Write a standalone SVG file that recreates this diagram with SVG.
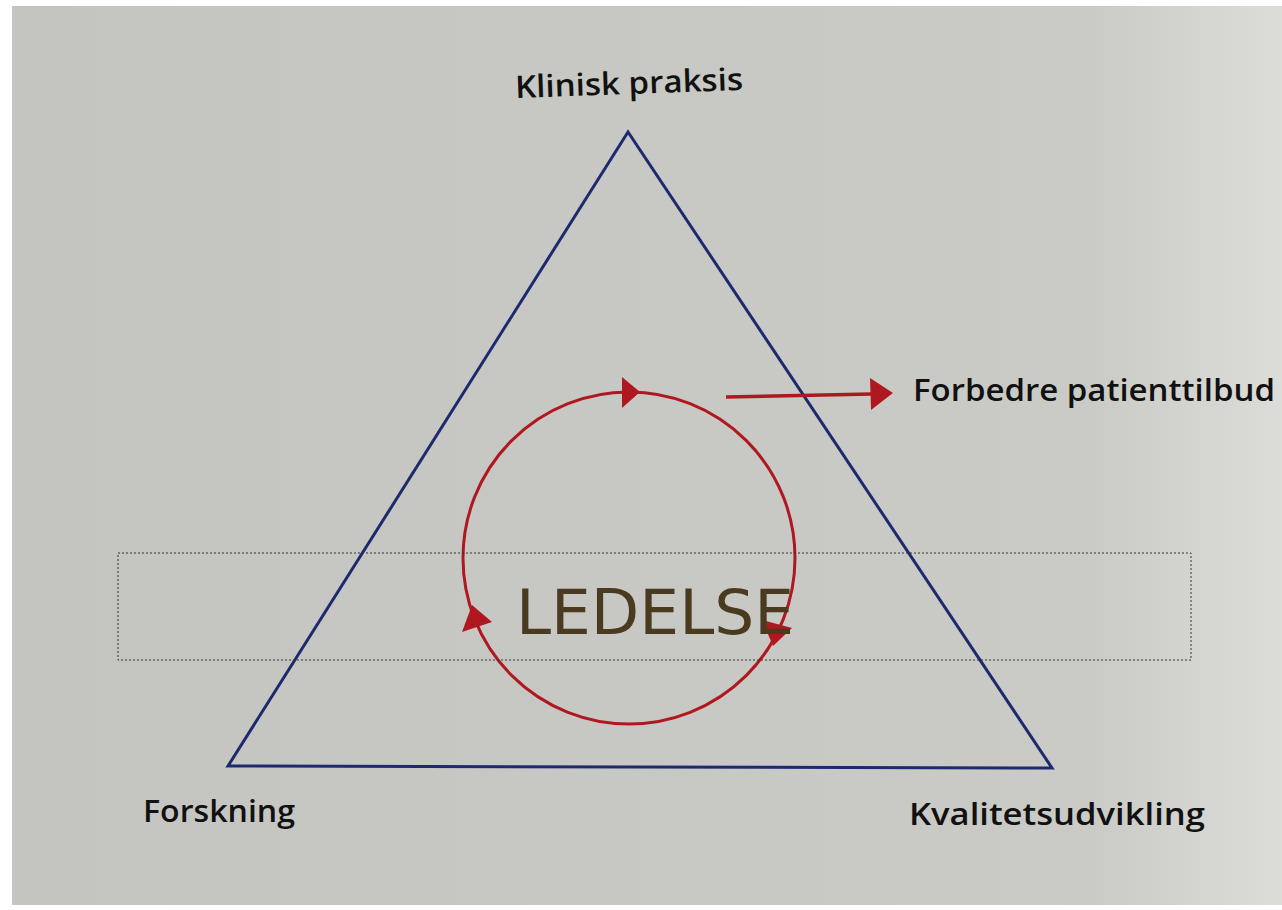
<svg xmlns="http://www.w3.org/2000/svg" width="1282" height="910" viewBox="0 0 1282 910">
<defs>
<linearGradient id="bg" x1="0" y1="0" x2="1" y2="0">
<stop offset="0" stop-color="#c4c5c1"/>
<stop offset="0.85" stop-color="#cacbc7"/>
<stop offset="1" stop-color="#dcdcd8"/>
</linearGradient>
<style>
.lbl{font-family:"Open Sans","DejaVu Sans",sans-serif;font-weight:600;font-size:31px;fill:#111}
.red{fill:#b01820}
</style>
</defs>
<rect width="1282" height="910" fill="#ffffff"/>
<rect x="12" y="6" width="1270" height="899" fill="url(#bg)"/>
<g id="connectors">
<polygon id="triangle" points="628,132 228,766 1052,768" fill="none" stroke="#1e2a6e" stroke-width="3"/>
<circle id="cycle" cx="629" cy="558" r="166" fill="none" stroke="#b01820" stroke-width="3"/>
<path class="red" d="M622,377 L640,392 L622,408 z"/>
<path class="red" d="M462,632 L472,605 L492,622 z"/>
<path class="red" d="M773,646 L762,620 L792,628 z"/>
<line x1="726" y1="397" x2="872" y2="394" stroke="#b01820" stroke-width="3.5"/>
<path class="red" d="M870,378 L893,393 L871,410 z"/>
</g>
<g id="box">
<rect x="118" y="553" width="1073" height="107" fill="none" stroke="#333" stroke-width="1" stroke-dasharray="2,2"/>
<text x="655" y="634" text-anchor="middle" font-family="DejaVu Sans,sans-serif" font-size="63" fill="#4a3a1f">LEDELSE</text>
</g>
<g id="n-klinisk">
<text class="lbl" x="515" y="94" textLength="228" lengthAdjust="spacingAndGlyphs" transform="rotate(-2 628 84)">Klinisk praksis</text>
</g>
<g id="n-forbedre">
<text class="lbl" x="913" y="401" textLength="362" lengthAdjust="spacingAndGlyphs">Forbedre patienttilbud</text>
</g>
<g id="n-forskning">
<text class="lbl" x="143" y="822" textLength="152" lengthAdjust="spacingAndGlyphs">Forskning</text>
</g>
<g id="n-kvalitet">
<text class="lbl" x="909" y="825" textLength="296" lengthAdjust="spacingAndGlyphs">Kvalitetsudvikling</text>
</g>
</svg>
